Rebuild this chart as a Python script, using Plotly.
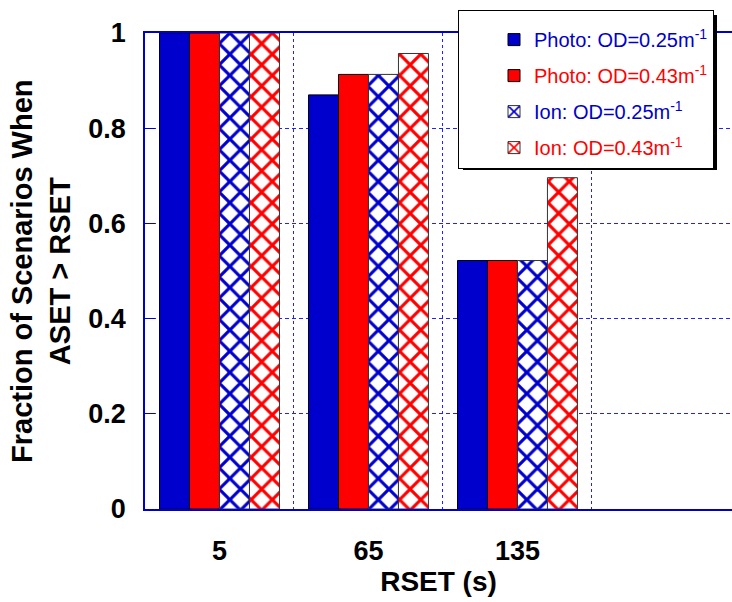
import plotly.graph_objects as go

# RSET values (s) on the x axis
rset = ["5", "65", "135"]

# Fraction of scenarios with ASET > RSET for each detector / optical density
photo_od025 = [1.0, 0.870, 0.522]
photo_od043 = [1.0, 0.913, 0.522]
ion_od025 = [1.0, 0.913, 0.522]
ion_od043 = [1.0, 0.957, 0.696]

labels = [
    "Photo: OD=0.25m<sup>-1</sup>",
    "Photo: OD=0.43m<sup>-1</sup>",
    "Ion: OD=0.25m<sup>-1</sup>",
    "Ion: OD=0.43m<sup>-1</sup>",
]

BLUE = "#0000CC"
RED = "#FF0000"
GRID = "#2222FF"
FONT = "Arial, Liberation Sans, sans-serif"

series = [
    (photo_od025, BLUE, False),
    (photo_od043, RED, False),
    (ion_od025, BLUE, True),
    (ion_od043, RED, True),
]

fig = go.Figure()
for i, ((vals, col, hatched), name) in enumerate(zip(series, labels)):
    if hatched:
        marker = dict(
            color="white",
            line=dict(color="#333333", width=1),
            pattern=dict(shape="x", fgcolor=col, bgcolor="white",
                         fgopacity=1, size=15, solidity=0.38),
        )
    else:
        marker = dict(color=col, line=dict(color="black", width=1))
    fig.add_trace(go.Bar(
        x=rset, y=vals, marker=marker,
        name=f"<span style='color:{col}'>{name}</span>",
        legendgroup=f"g{i}",
    ))

# drop shadow behind the legend box
fig.add_shape(type="rect", xref="paper", yref="paper",
              x0=(463 - 145) / 587, x1=(717 - 145) / 587,
              y0=(509 - 170) / 476, y1=(509 - 15) / 476,
              fillcolor="black", line=dict(width=0), layer="above")

fig.add_annotation(
    text="Fraction of Scenarios When<br>ASET > RSET",
    xref="paper", yref="paper", x=0, y=0.5, xshift=-104,
    xanchor="center", yanchor="middle", textangle=-90, showarrow=False,
    font=dict(family=FONT, size=29, color="black", weight="bold"),
)

fig.update_layout(
    width=732, height=602,
    margin=dict(l=145, r=0, t=33, b=93),
    paper_bgcolor="white", plot_bgcolor="white",
    barmode="group", bargap=0.195, bargroupgap=0,
    font=dict(family=FONT, color="black"),
    legend=dict(
        x=(458 - 145) / 587, y=(509 - 10) / 476,
        xanchor="left", yanchor="top",
        bgcolor="white", bordercolor="black", borderwidth=1,
        font=dict(family=FONT, size=20),
        title=dict(text=" ", font=dict(size=7)),
        indentation=35, tracegroupgap=7, itemwidth=30,
    ),
    xaxis=dict(
        type="category", range=[-0.5, 3.44],
        tickson="boundaries", ticks="",
        showgrid=True, gridcolor=GRID, gridwidth=1, griddash="3px,3px",
        showline=True, linecolor=BLUE, linewidth=1.5, mirror=True,
        tickfont=dict(family=FONT, size=27, color="black", weight="bold"),
        ticklabelstandoff=17,
        title=dict(text="RSET (s)", standoff=0,
                   font=dict(family=FONT, size=28, color="black", weight="bold")),
        zeroline=False,
    ),
    yaxis=dict(
        range=[0, 1], dtick=0.2,
        ticks="inside", ticklen=10, tickcolor=BLUE, tickwidth=1,
        showgrid=True, gridcolor=GRID, gridwidth=1, griddash="4px,3px",
        showline=True, linecolor=BLUE, linewidth=1.5,
        tickfont=dict(family=FONT, size=27, color="black", weight="bold"),
        ticklabelstandoff=12,
        zeroline=False,
    ),
)

fig.write_html("out.html")
